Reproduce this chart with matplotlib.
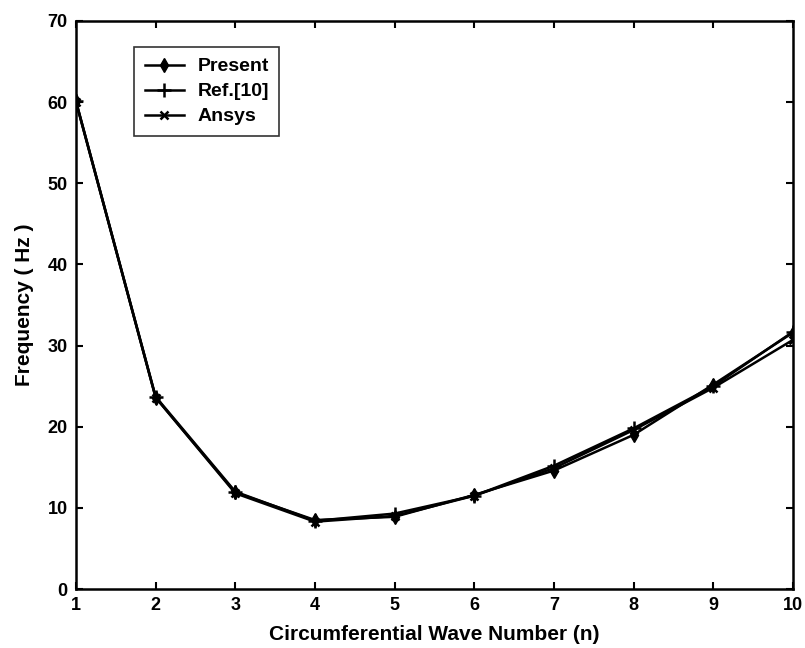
import matplotlib.pyplot as plt

# wave numbers and frequencies
n = [1, 2, 3, 4, 5, 6, 7, 8, 9, 10]
present = [60.1, 23.6, 11.9, 8.5, 8.9, 11.6, 14.6, 19.0, 25.2, 31.6]
ref10 = [60.1, 23.7, 12.0, 8.4, 9.3, 11.5, 15.2, 19.8, 25.0, 31.7]
ansys = [60.0, 23.6, 11.8, 8.3, 9.0, 11.5, 14.9, 19.6, 24.8, 30.7]

plt.rcParams['font.family'] = ['Liberation Sans', 'DejaVu Sans']
plt.rcParams['font.weight'] = 'bold'

fig = plt.figure(figsize=(8.05, 6.48), dpi=100)
ax = fig.add_axes([0.0944, 0.091, 0.8906, 0.8766])

ax.plot(n, present, color='k', lw=1.8, marker='d', ms=7, label='Present')
ax.plot(n, ref10, color='k', lw=1.8, marker='+', ms=10, mew=1.8, label='Ref.[10]')
ax.plot(n, ansys, color='k', lw=1.8, marker='x', ms=6, mew=1.8, label='Ansys')

ax.set_xlim(1, 10)
ax.set_ylim(0, 70)
ax.set_xticks(n)
ax.set_yticks(range(0, 71, 10))
ax.tick_params(direction='in', length=5, width=1.5, labelsize=13,
               top=True, right=True, pad=6)
for s in ax.spines.values():
    s.set_linewidth(1.8)

ax.set_xlabel('Circumferential Wave Number (n)', fontsize=15, fontweight='bold', labelpad=8)
ax.set_ylabel('Frequency ( Hz )', fontsize=15, fontweight='bold', labelpad=10)

leg = ax.legend(loc='upper left', bbox_to_anchor=(0.081, 0.954), fontsize=14,
                frameon=True, fancybox=False, edgecolor='k', handlelength=2.0,
                handletextpad=0.7, borderpad=0.55, labelspacing=0.38,
                borderaxespad=0)
leg.get_frame().set_linewidth(1.2)
for t in leg.get_texts():
    t.set_fontweight('bold')

fig.savefig('out.png', dpi=100)
